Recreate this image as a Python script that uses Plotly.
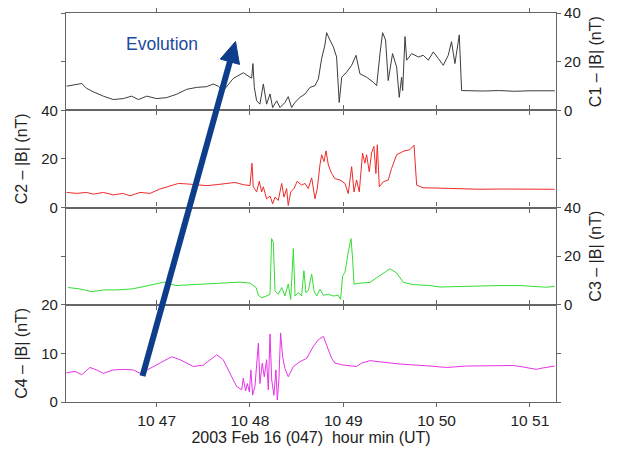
import pandas as pd
import plotly.graph_objects as go

# ---- data: seconds after 2003-02-16 10:46:00 UT, |B| in nT ----
c1_t = [2.1, 6.4, 11.8, 15.0, 19.2, 25.7, 32.1, 38.5, 43.9, 48.2, 53.6, 60.0, 66.4, 72.9, 79.3,
        85.7, 92.2, 96.4, 99.6, 102.8, 109.3, 115.7, 121.1, 121.9, 122.8, 124.3, 126.4, 128.6,
        130.7, 132.9, 134.6, 137.2, 139.3, 142.5, 144.6, 146.8, 148.9, 152.2, 155.4, 158.6, 161.8,
        164.0, 166.1, 168.2, 169.3, 171.4, 173.6, 175.7, 177.4, 179.0, 182.2, 185.4, 188.2, 190.7,
        195.0, 199.3, 201.5, 203.6, 205.3, 207.2, 208.9, 211.7, 214.3, 216.0, 217.5, 218.2, 219.7,
        220.8, 224.0, 228.3, 231.4, 234.7, 237.9, 241.1, 244.3, 247.5, 249.6, 251.8, 254.6, 256.1,
        262.0, 270.0, 280.0, 290.0, 300.0, 310.0, 316.0]
c1_b = [9.9, 10.3, 11.0, 9.0, 7.6, 5.8, 4.4, 4.8, 5.8, 4.4, 5.8, 4.8, 5.2, 6.6, 8.6,
        9.4, 9.7, 10.8, 9.9, 8.0, 13.1, 15.4, 13.2, 19.2, 9.4, 3.9, 2.5, 10.8,
        2.5, 6.7, 1.1, 3.9, 1.1, 3.2, 5.6, 1.1, 3.2, 5.3, 6.7, 9.4, 10.1,
        12.9, 21.3, 26.8, 31.9, 28.9, 26.1, 21.9, 3.2, 13.6, 15.7, 18.5, 22.6, 15.0,
        13.6, 11.5, 10.1, 23.3, 31.9, 28.9, 12.2, 23.3, 17.8, 5.3, 13.6, 8.1, 30.3,
        20.6, 23.3, 21.9, 22.6, 20.6, 24.0, 21.3, 18.5, 22.6, 28.2, 19.2, 31.0, 8.1,
        8.0, 7.9, 8.1, 7.8, 8.0, 8.1, 8.0]

c2_t = [2.1, 8.6, 15.0, 19.2, 25.7, 32.1, 38.5, 42.8, 49.3, 55.7, 62.1, 68.6, 74.0, 79.3, 85.7,
        92.2, 98.6, 105.0, 110.4, 115.7, 120.0, 121.3, 122.1, 124.3, 126.0, 127.5, 128.6, 130.7,
        132.9, 134.6, 136.1, 138.2, 140.4, 141.9, 143.6, 144.6, 146.2, 148.3, 150.4, 153.2, 155.4,
        157.5, 159.7, 161.8, 163.3, 165.0, 166.1, 167.6, 168.9, 170.4, 172.5, 174.6, 177.9, 181.1,
        183.2, 185.4, 186.9, 188.6, 190.3, 192.4, 193.9, 195.0, 196.7, 198.2, 199.7, 201.0, 201.9,
        203.2, 205.7, 208.9, 211.1, 214.3, 218.6, 222.9, 225.5, 227.2, 231.4, 240.0, 250.7, 267.9,
        280.0, 295.0, 305.0, 316.0]
c2_b = [6.2, 5.8, 6.2, 5.5, 6.2, 5.2, 5.8, 4.8, 6.2, 5.8, 7.6, 9.0, 9.9, 9.7, 9.4,
        9.0, 9.4, 9.9, 10.3, 9.4, 9.0, 18.2, 8.5, 6.4, 10.8, 6.4, 8.5, 3.6,
        4.7, 1.5, 4.3, 2.9, 9.9, 4.3, 7.8, 0.8, 6.4, 7.8, 10.8, 9.2, 9.9,
        7.8, 12.2, 3.6, 7.8, 17.5, 21.7, 18.9, 23.3, 17.5, 14.0, 11.9, 11.3, 9.9,
        5.7, 16.8, 6.4, 11.3, 6.4, 22.4, 18.2, 21.7, 14.7, 22.4, 25.1, 14.0, 25.8,
        8.5, 10.6, 11.3, 16.1, 21.7, 23.1, 23.8, 25.6, 9.2, 8.1, 8.0, 7.8, 7.5,
        7.6, 7.5, 7.6, 7.5]

c3_t = [3.0, 10.7, 18.4, 26.1, 33.8, 44.1, 51.8, 60.8, 64.7, 72.4, 82.7, 93.0, 103.3, 113.6, 120.0,
        122.1, 123.9, 125.4, 127.5, 130.7, 132.9, 133.9, 135.0, 136.1, 138.2, 140.4, 142.5, 144.6,
        146.2, 147.9, 149.0, 151.1, 153.2, 154.7, 156.0, 157.5, 159.7, 161.2, 162.9, 165.0, 167.2,
        170.4, 173.6, 176.8, 178.3, 179.6, 181.1, 183.2, 185.0, 186.0, 186.9, 190.7, 197.2, 203.6,
        210.0, 214.3, 218.6, 225.0, 235.7, 242.2, 257.1, 267.9, 280.8, 293.6, 306.5, 310.8, 316.0]
c3_b = [7.1, 6.5, 5.4, 6.1, 6.1, 6.5, 7.5, 8.9, 9.3, 7.9, 8.2, 8.5, 8.9, 9.3, 8.9,
        7.8, 7.1, 3.9, 2.9, 3.6, 4.3, 27.2, 25.8, 5.7, 4.3, 7.1, 3.6, 8.5,
        2.2, 23.1, 3.6, 5.0, 3.6, 14.0, 5.0, 5.7, 12.6, 5.7, 3.6, 6.4, 3.9,
        4.3, 3.6, 3.9, 2.2, 11.9, 13.3, 21.7, 27.2, 18.9, 8.5, 8.9, 9.2, 12.0,
        14.8, 13.1, 9.2, 8.3, 7.9, 7.3, 7.6, 7.6, 7.9, 7.9, 7.6, 7.2, 7.6]

c4_t = [2.1, 7.5, 11.8, 17.1, 21.4, 25.7, 32.1, 38.5, 45.0, 49.3, 55.7, 62.1, 69.6, 75.0, 83.6,
        90.0, 98.6, 102.8, 107.1, 111.4, 114.7, 115.7, 117.2, 118.3, 119.6, 120.6, 121.7, 123.2,
        125.4, 126.4, 127.9, 129.2, 130.7, 131.8, 132.9, 134.0, 135.4, 136.7, 137.6, 138.6, 139.7,
        141.0, 142.5, 144.6, 147.9, 152.2, 156.5, 160.7, 164.0, 167.2, 169.3, 172.5, 174.6, 180.0,
        188.6, 191.8, 197.2, 203.6, 216.5, 235.7, 246.4, 259.3, 274.3, 289.3, 295.7, 304.3, 306.5,
        316.0]
c4_b = [6.0, 6.3, 5.6, 7.1, 6.6, 5.9, 6.6, 6.7, 6.6, 5.9, 6.9, 8.0, 9.3, 8.7, 7.3,
        7.6, 9.7, 8.7, 5.9, 3.2, 2.5, 4.9, 2.3, 3.8, 2.1, 6.6, 1.4, 3.2,
        12.1, 3.8, 8.0, 5.2, 8.7, 2.5, 14.0, 4.5, 1.4, 6.6, 0.4, 4.5, 14.2,
        9.3, 6.9, 5.2, 7.3, 8.3, 9.0, 11.4, 12.8, 13.5, 11.7, 9.0, 8.0, 7.6,
        7.3, 8.0, 8.5, 8.3, 7.8, 7.4, 7.1, 7.4, 7.4, 7.5, 7.2, 6.7, 6.9,
        7.4]

names = ["C1", "C2", "C3", "C4"]
colors = ["#3c3c3c", "#ee2a2a", "#33dd33", "#e633e6"]
y_ranges = [[0, 40], [0, 40], [0, 40], [0, 20]]
y_ticks = [[0, 20, 40], [0, 20, 40], [0, 20, 40], [0, 10, 20]]
y_sides = ["right", "left", "right", "left"]
x_ticks = ["10:47", "10:48", "10:49", "10:50", "10:51"]
x_span = [1.7, 316.8]
x_title = "2003 Feb 16 (047)\u00a0\u00a0hour min (UT)"

t0 = pd.Timestamp("2003-02-16 10:46:00")
def to_time(secs):
    return t0 + pd.to_timedelta(pd.Series(secs, dtype=float), unit="s")

series = [(c1_t, c1_b), (c2_t, c2_b), (c3_t, c3_b), (c4_t, c4_b)]

W, H = 625, 452
ML, MR, MT, MB = 66, 69, 13, 50
PW, PH = W - ML - MR, H - MT - MB

FONT = "Liberation Sans, Arial, Helvetica, sans-serif"
TXT = "#222222"
AX = "#666666"

fig = go.Figure()
layout = dict(
    width=W, height=H,
    margin=dict(l=ML, r=MR, t=MT, b=MB, pad=0, autoexpand=False),
    paper_bgcolor="white", plot_bgcolor="white",
    showlegend=False,
    font=dict(family=FONT, size=15, color=TXT),
)

xr = list(to_time(x_span))
xt = [pd.Timestamp("2003-02-16 " + v + ":00") for v in x_ticks]

for i, (tt, bb) in enumerate(series):
    k = i + 1
    xa = "x" if k == 1 else f"x{k}"
    ya = "y" if k == 1 else f"y{k}"
    fig.add_trace(go.Scatter(
        x=to_time(tt), y=bb, mode="lines",
        line=dict(color=colors[i], width=1.0),
        xaxis=xa, yaxis=ya, name=names[i], hoverinfo="skip"))
    d0 = 1 - (i + 1) * 0.25
    d1 = 1 - i * 0.25
    layout[f"xaxis{'' if k == 1 else k}"] = dict(
        type="date", range=xr, domain=[0, 1], anchor=ya,
        tickvals=xt, tickformat="%H %M",
        showticklabels=(k == 4), automargin=False,
        ticks="outside", ticklen=4, tickwidth=1, tickcolor=AX,
        showline=True, linecolor=AX, linewidth=1.2, mirror="allticks",
        showgrid=False, zeroline=False,
        matches=None if k == 1 else "x",
        tickfont=dict(size=15.5, color=TXT),
        title=dict(text=x_title if k == 4 else "", font=dict(size=16, color=TXT), standoff=2),
    )
    layout[f"yaxis{'' if k == 1 else k}"] = dict(
        domain=[d0, d1], anchor=xa, range=y_ranges[i], tickvals=y_ticks[i],
        side=y_sides[i], automargin=False,
        ticks="outside", ticklen=4, tickwidth=1, tickcolor=AX,
        showline=True, linecolor=AX, linewidth=1.2, mirror="allticks",
        showgrid=False, zeroline=False,
        tickfont=dict(size=15, color=TXT),
        title=dict(text=f"{names[i]} \u2013 |B| (nT)", font=dict(size=16, color=TXT),
                   standoff=10 if y_sides[i] == "right" else 9),
    )

fig.update_layout(**layout)

# ---- "Evolution" arrow (decoration, in paper coordinates) ----
def px(xp):
    return (xp - ML) / PW
def py(yp):
    return (H - MB - yp) / PH

tail = (142.5, 376.0)
tip = (235.5, 41.5)
dx, dy = tip[0] - tail[0], tip[1] - tail[1]
L = (dx * dx + dy * dy) ** 0.5
ux, uy = dx / L, dy / L
nx, ny = -uy, ux
head_len, head_half = 21.0, 10.0
bx, by = tip[0] - head_len * ux, tip[1] - head_len * uy
c1 = (bx + head_half * nx, by + head_half * ny)
c2 = (bx - head_half * nx, by - head_half * ny)
ARROW = "#0e3d8c"

fig.add_shape(type="line", xref="paper", yref="paper",
              x0=px(tail[0]), y0=py(tail[1]), x1=px(bx + 2 * ux), y1=py(by + 2 * uy),
              line=dict(color=ARROW, width=6), layer="above")
path = (f"M {px(tip[0])},{py(tip[1])} L {px(c1[0])},{py(c1[1])} "
        f"L {px(c2[0])},{py(c2[1])} Z")
fig.add_shape(type="path", xref="paper", yref="paper", path=path,
              fillcolor=ARROW, line=dict(color=ARROW, width=1), layer="above")

fig.add_annotation(xref="paper", yref="paper", x=px(161.5), y=py(43.5),
                   text="Evolution", showarrow=False, xanchor="center", yanchor="middle",
                   font=dict(family=FONT, size=17.5, color="#1d4a9c"))

fig.write_html("out.html")
